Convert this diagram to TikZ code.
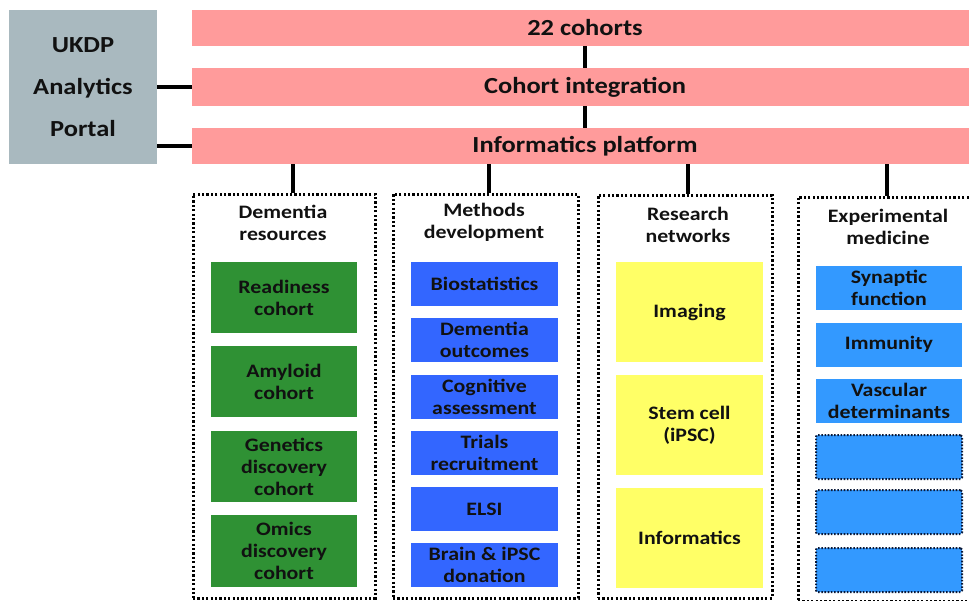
\documentclass[tikz,border=0pt]{standalone}
\usepackage{fontspec}
\setmainfont{Carlito}[FakeStretch=1.15]
\definecolor{pinkc}{HTML}{FF9B9B}
\definecolor{grayc}{HTML}{A9B9BF}
\definecolor{greenc}{HTML}{2F9134}
\definecolor{bluem}{HTML}{3366FF}
\definecolor{bluee}{HTML}{3399FF}
\definecolor{yellowc}{HTML}{FFFF66}
\definecolor{txtc}{HTML}{111111}
\definecolor{navyc}{HTML}{0A1A3A}
\newcommand\bartxt{\fontsize{23}{28}\selectfont\bfseries}
\newcommand\portaltxt{\fontsize{23}{42}\selectfont\bfseries}
\newcommand\boxtxt{\fontsize{19}{22}\selectfont\bfseries}
\begin{document}
\begin{tikzpicture}[x=1pt,y=-1pt,
  bar/.style={fill=pinkc, minimum width=786pt, inner sep=0pt, font=\bartxt, text=txtc},
  portal/.style={fill=grayc, minimum width=148pt, minimum height=154pt, inner sep=0pt, align=center, font=\portaltxt, text=txtc},
  group/.style={draw=black, line width=3pt, dash pattern=on 2.2pt off 2.2pt, minimum height=404pt, inner sep=0pt},
  head/.style={align=center, font=\boxtxt, text=txtc, inner sep=0pt},
  item/.style={align=center, font=\boxtxt, text=txtc, inner sep=0pt, minimum width=147pt, minimum height=44pt},
  gitem/.style={item, fill=greenc, minimum width=146pt, minimum height=71pt},
  mitem/.style={item, fill=bluem},
  yitem/.style={item, fill=yellowc, minimum height=100pt},
  eitem/.style={item, fill=bluee, minimum width=146pt},
  eempty/.style={eitem, draw=navyc, line width=2pt, dash pattern=on 1.6pt off 1.6pt, rounded corners=1.5pt},
  link/.style={draw=black, line width=4pt}
]
\useasboundingbox (0,0) rectangle (969,600);

% portal
\node[portal] (ukdp) at (83,87) {UKDP\\Analytics\\Portal};

% bars
\node[bar, minimum height=36pt] (c22) at (585,28) {22 cohorts};
\node[bar, minimum height=38pt] (ci) at (585,87) {Cohort integration};
\node[bar, minimum height=36pt] (ip) at (585,146) {Informatics platform};

\draw[link] (c22.south) -- (ci.north);
\draw[link] (ci.south) -- (ip.north);
\draw[link] (ukdp.east |- ci.west) -- (ci.west);
\draw[link] (ukdp.east |- ip.west) -- (ip.west);

% groups
\node[group, minimum width=182pt] (g1) at (284,396) {};
\node[group, minimum width=185pt] (g2) at (485.5,396) {};
\node[group, minimum width=174pt, minimum height=403pt] (g3) at (685,396.5) {};
\node[group, minimum width=187pt, minimum height=404pt] (g4) at (891.5,399) {};

\draw[link] ([xshift=9pt]g1.north) -- ([xshift=9pt]g1.north |- ip.south);
\draw[link] ([xshift=3.5pt]g2.north) -- ([xshift=3.5pt]g2.north |- ip.south);
\draw[link] ([xshift=3pt]g3.north) -- ([xshift=3pt]g3.north |- ip.south);
\draw[link] ([xshift=-4.5pt]g4.north) -- ([xshift=-4.5pt]g4.north |- ip.south);

% headers
\node[head] (h1) at (283,223) {Dementia\\resources};
\node[head] (h2) at (484,222) {Methods\\development};
\node[head] (h3) at (688,225) {Research\\networks};
\node[head] (h4) at (888,227) {Experimental\\medicine};

% dementia resources
\node[gitem] (r1) at (284,297.5) {Readiness\\cohort};
\node[gitem] (r2) at (284,381.5) {Amyloid\\cohort};
\node[gitem] (r3) at (284,466.5) {Genetics\\discovery\\cohort};
\node[gitem, minimum height=72pt] (r4) at (284,551) {Omics\\discovery\\cohort};

% methods development
\node[mitem] (m1) at (484.5,284) {Biostatistics};
\node[mitem] (m2) at (484.5,340) {Dementia\\outcomes};
\node[mitem] (m3) at (484.5,396.5) {Cognitive\\assessment};
\node[mitem] (m4) at (484.5,453) {Trials\\recruitment};
\node[mitem] (m5) at (484.5,509) {ELSI};
\node[mitem] (m6) at (484.5,565) {Brain \& iPSC\\donation};

% research networks
\node[yitem] (n1) at (689.5,312) {Imaging};
\node[yitem] (n2) at (689.5,425) {Stem cell\\(iPSC)};
\node[yitem] (n3) at (689.5,538) {Informatics};

% experimental medicine
\node[eitem] (e1) at (889,288) {Synaptic\\function};
\node[eitem] (e2) at (889,344.5) {Immunity};
\node[eitem] (e3) at (889,400.5) {Vascular\\determinants};
\node[eempty] (e4) at (889,457) {};
\node[eempty] (e5) at (889,512) {};
\node[eempty] (e6) at (889,570) {};
\end{tikzpicture}
\end{document}
